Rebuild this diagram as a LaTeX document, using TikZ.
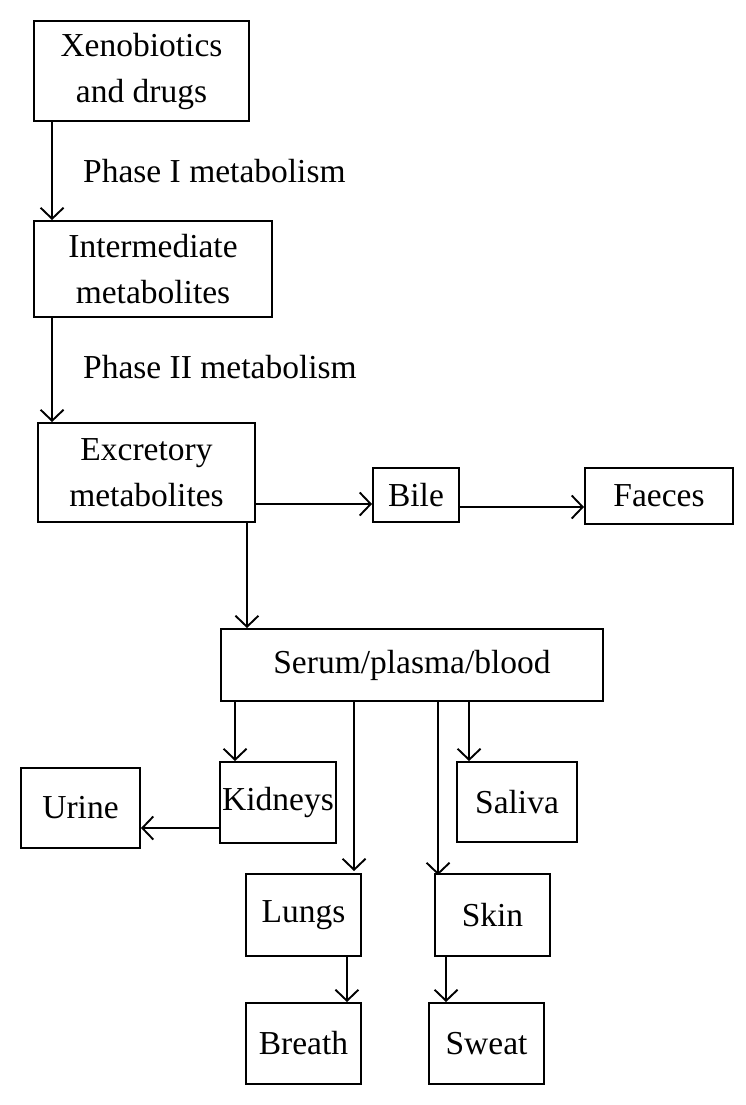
\documentclass[tikz,border=0pt]{standalone}
\usepackage{fontspec}
\setmainfont{Liberation Serif}
\usetikzlibrary{arrows.meta,calc}
\begin{document}
\begin{tikzpicture}[x=1pt,y=-1pt,
  every node/.style={font=\fontsize{33.5}{46}\selectfont},
  box/.style={draw,line width=1.9pt,inner sep=0pt,align=center},
  conn/.style={line width=1.9pt,-{Straight Barb[length=11pt,width=23pt]}},
  lbl/.style={anchor=base west,inner sep=0pt}]
\useasboundingbox (0,0) rectangle (746,1105);
% boxes
\node[box,minimum width=215pt,minimum height=100pt] (xeno) at (141.5,71) {Xenobiotics\\and drugs};
\node[box,minimum width=238pt,minimum height=96pt] (inter) at (153,269) {Intermediate\\metabolites};
\node[box,minimum width=217pt,minimum height=99pt] (excr) at (146.5,472.5) {Excretory\\metabolites};
\node[box,minimum width=86pt,minimum height=54pt] (bile) at (416,495) {Bile};
\node[box,minimum width=148pt,minimum height=56pt] (faeces) at (659,496) {Faeces};
\node[box,minimum width=382pt,minimum height=72pt] (serum) at (412,665) {Serum/plasma/blood};
\node[box,minimum width=116pt,minimum height=81pt] (kidneys) at (278,802.5) {Kidneys};
\node[box,minimum width=119pt,minimum height=80pt] (urine) at (80.5,808) {Urine};
\node[box,minimum width=120pt,minimum height=80pt] (saliva) at (517,802) {Saliva};
\node[box,minimum width=115pt,minimum height=82pt] (lungs) at (303.5,915) {Lungs};
\node[box,minimum width=115pt,minimum height=82pt] (skin) at (492.5,915) {Skin};
\node[box,minimum width=115pt,minimum height=81pt] (breath) at (303.5,1043.5) {Breath};
\node[box,minimum width=115pt,minimum height=81pt] (sweat) at (486.5,1043.5) {Sweat};
% labels
\node[lbl] (p1) at (83,182) {Phase I metabolism};
\node[lbl] (p2) at (83,378) {Phase II metabolism};
% connectors
\draw[conn] ([xshift=19pt]xeno.south west) coordinate (a1) -- (a1 |- inter.north);
\draw[conn] ([xshift=19pt]inter.south west) coordinate (a2) -- (a2 |- excr.north);
\draw[conn] ([yshift=-31.5pt]excr.east) coordinate (a3) -- (a3 -| bile.west);
\draw[conn] ([yshift=-12pt]bile.east) coordinate (a4) -- (a4 -| faeces.west);
\draw[conn] ([xshift=-9pt]excr.south east) coordinate (a5) -- (a5 |- serum.north);
\draw[conn] ([xshift=15pt]serum.south west) coordinate (a6) -- (a6 |- kidneys.north);
\draw[conn] ([xshift=134pt]serum.south west) coordinate (a7) -- ([yshift=2pt]a7 |- lungs.north);
\draw[conn] ([xshift=218pt]serum.south west) coordinate (a8) -- ([yshift=-2pt]a8 |- skin.north);
\draw[conn] ([xshift=249pt]serum.south west) coordinate (a9) -- (a9 |- saliva.north);
\draw[conn] ([yshift=-25.5pt]kidneys.west) coordinate (a10) -- (a10 -| urine.east);
\draw[conn] ([xshift=-15pt]lungs.south east) coordinate (a11) -- (a11 |- breath.north);
\draw[conn] ([xshift=12pt]skin.south west) coordinate (a12) -- (a12 |- sweat.north);
\end{tikzpicture}
\end{document}
